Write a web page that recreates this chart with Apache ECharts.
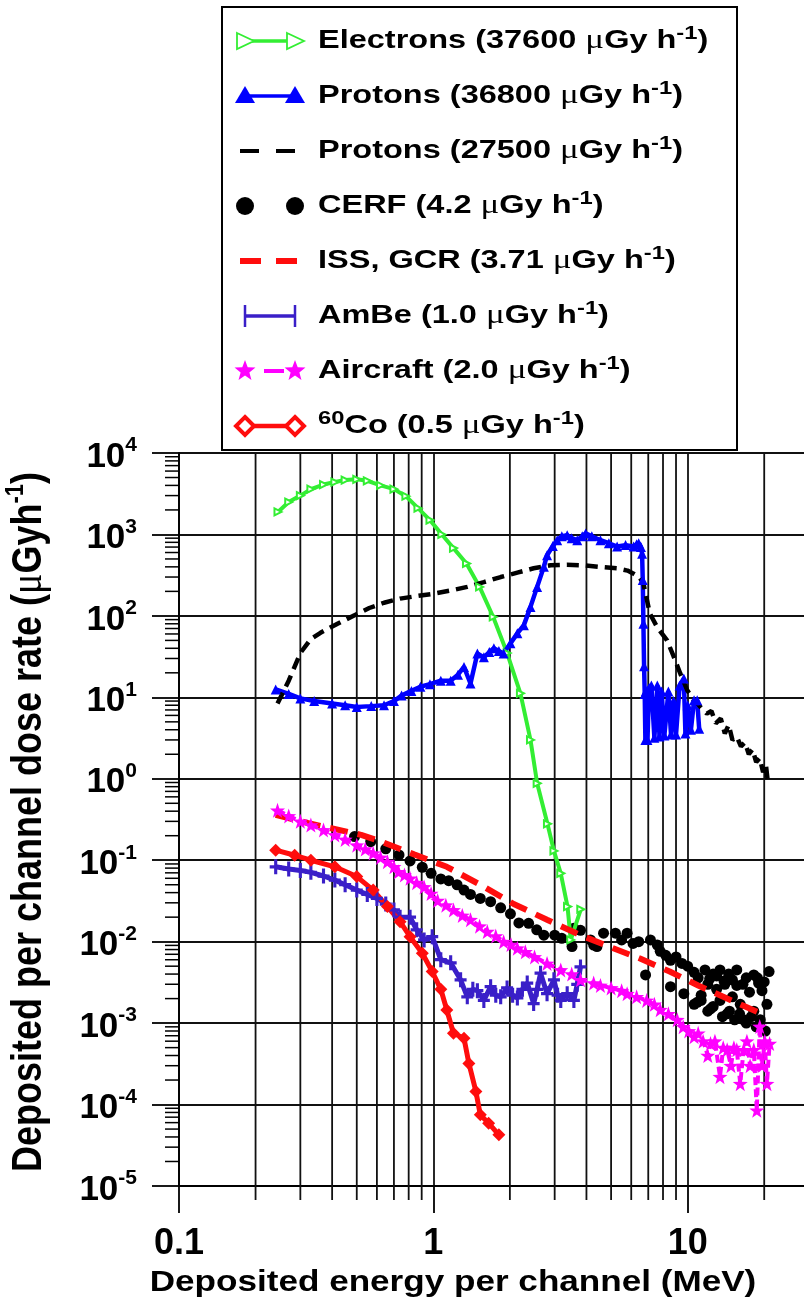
<!DOCTYPE html>
<html>
<head>
<meta charset="utf-8">
<title>Deposited per channel dose rate</title>
<script src="https://cdn.jsdelivr.net/npm/echarts@6/dist/echarts.min.js"></script>
<style>
  html, body { margin: 0; padding: 0; background: #fff; }
  #chart { width: 804px; height: 1306px; }
</style>
</head>
<body>
<div id="chart"></div>
<script>
// values: energy (MeV) and dose rate (uGy/h)
const electronsE = [0.245, 0.27, 0.30, 0.33, 0.37, 0.41, 0.45, 0.50, 0.55, 0.62, 0.70, 0.78, 0.87, 0.97, 1.08, 1.2, 1.35, 1.52, 1.72, 1.95, 2.2, 2.41, 2.56, 2.81, 2.98, 3.17, 3.37, 3.47, 3.8]
const electronsDose = [1890, 2500, 3000, 3600, 4100, 4400, 4650, 4750, 4550, 4000, 3600, 2950, 2100, 1500, 1000, 680, 440, 227, 97, 35, 11.2, 3, 0.88, 0.28, 0.13, 0.069, 0.027, 0.0105, 0.025]

const protonsE = [0.24, 0.27, 0.30, 0.34, 0.40, 0.45, 0.50, 0.57, 0.64, 0.70, 0.75, 0.82, 0.89, 0.97, 1.07, 1.17, 1.25, 1.32, 1.40, 1.49, 1.58, 1.66, 1.73, 1.81, 1.89, 2.01, 2.14, 2.27, 2.41, 2.56, 2.72, 2.80, 2.95, 3.07, 3.2, 3.36, 3.5, 3.68, 3.85, 3.97, 4.2, 4.54, 4.9, 5.28, 5.7, 6.13, 6.3, 6.42, 6.55, 6.62, 6.66, 6.70, 6.74, 6.78, 6.82, 6.86, 6.95, 7.05, 7.2, 7.4, 7.6, 7.75, 7.9, 8.1, 8.4, 8.6, 8.8, 9.0, 9.3, 9.66, 9.8, 10.0, 10.3, 10.6, 10.9, 11.1]
const protonsDose = [12.5, 11, 9.7, 9, 8.4, 8, 7.6, 7.8, 8, 9, 10.5, 12, 13.5, 14.5, 16, 16, 19, 23.6, 14.8, 34.6, 31, 36, 40, 37, 34.6, 46, 61, 77, 129, 227, 400, 556, 720, 850, 950, 980, 900, 850, 950, 1030, 950, 850, 780, 710, 740, 710, 760, 780, 700, 580, 275, 80, 24, 11, 3.0, 12, 3.0, 13, 14, 3.2, 14, 3.3, 11.8, 3.4, 11.8, 3.5, 9, 3.5, 14, 17, 3.6, 8, 4, 9.2, 9.2, 4.1]

const protons2E = [0.244, 0.27, 0.30, 0.33, 0.36, 0.42, 0.49, 0.56, 0.64, 0.74, 0.86, 1.0, 1.17, 1.36, 1.58, 1.84, 2.14, 2.48, 2.89, 3.35, 3.9, 4.5, 5.28, 5.8, 6.13, 6.45, 6.7, 7.1, 7.6, 8.3, 8.8, 9.36, 9.95, 10.5, 11.0, 11.5, 11.9, 12.4, 12.9, 13.5, 14.0, 14.5, 15.0, 15.6, 16.2, 16.8, 17.4, 18.0, 18.6, 19.2, 19.8, 20.3, 20.6]
const protons2Dose = [8.4, 16, 35, 52, 62, 80, 102, 125, 145, 163, 175, 187, 205, 227, 260, 300, 340, 384, 418, 425, 418, 400, 384, 360, 330, 300, 250, 107, 72, 50, 32, 19.5, 12.3, 9.5, 8.2, 7.0, 6.3, 6.8, 4.8, 5.5, 3.6, 4.6, 3.0, 3.3, 2.5, 2.8, 2.0, 2.3, 1.6, 1.8, 1.2, 1.5, 1.0]

const cerfE = [0.49, 0.567, 0.65, 0.733, 0.81, 0.905, 0.98, 1.07, 1.15, 1.24, 1.32, 1.40, 1.53, 1.68, 1.84, 2.01, 2.17, 2.37, 2.55, 2.72, 3.0, 3.2, 3.51, 3.57, 3.79, 4.15, 4.27, 4.4, 4.67, 5.2, 5.5, 5.78, 6.1, 6.42, 6.83, 7.14, 7.6, 7.8, 8.2, 8.56, 8.56, 9.0, 9.5, 9.66, 10.0, 10.6, 10.6, 11.0, 11.3, 11.7, 12.0, 12.3, 12.6, 13.0, 13.4, 13.4, 13.9, 14.3, 14.5, 15.0, 15.6, 15.6, 16.1, 16.6, 17.0, 17.5, 18.2, 18.2, 19.0, 19.6, 20.2, 20.5, 20.9, 10.9, 11.3, 12.0, 12.6, 13.7, 14.6, 15.3, 16.0, 17.0, 17.8, 18.6, 19.3, 12.2, 13.0, 14.0, 15.0, 16.5, 18.8, 20.0]
const cerfDose = [0.195, 0.169, 0.138, 0.116, 0.098, 0.082, 0.069, 0.059, 0.056, 0.050, 0.043, 0.038, 0.034, 0.031, 0.026, 0.022, 0.017, 0.0168, 0.014, 0.012, 0.012, 0.011, 0.0087, 0.0146, 0.0138, 0.0105, 0.0091, 0.0087, 0.0127, 0.0127, 0.0105, 0.0127, 0.0095, 0.010, 0.0039, 0.0105, 0.0091, 0.0076, 0.0068, 0.0059, 0.0028, 0.0065, 0.0054, 0.0023, 0.0050, 0.0042, 0.0017, 0.0036, 0.0022, 0.0045, 0.0030, 0.0015, 0.0040, 0.0026, 0.0045, 0.0019, 0.0033, 0.0013, 0.0040, 0.0021, 0.0045, 0.0029, 0.0017, 0.0011, 0.0036, 0.0024, 0.0039, 0.0014, 0.0031, 0.0025, 0.0008, 0.0017, 0.0043, 0.0018, 0.0019, 0.0014, 0.0016, 0.0012, 0.0014, 0.0011, 0.0013, 0.0010, 0.0012, 0.0009, 0.0011, 0.0035, 0.0038, 0.0030, 0.0034, 0.0030, 0.0036, 0.0032]

const issE = [0.24, 0.33, 0.52, 0.62, 0.84, 1.13, 1.53, 2.07, 2.8, 3.79, 5.0, 6.5, 8.5, 11.0, 14.3, 19.2]
const issDose = [0.36, 0.28, 0.205, 0.17, 0.118, 0.083, 0.050, 0.029, 0.0186, 0.012, 0.0085, 0.0062, 0.0043, 0.0029, 0.0020, 0.00133]

const ambeE = [0.24, 0.27, 0.30, 0.33, 0.37, 0.41, 0.45, 0.50, 0.55, 0.60, 0.65, 0.70, 0.74, 0.81, 0.86, 0.92, 0.99, 1.07, 1.17, 1.28, 1.36, 1.43, 1.49, 1.58, 1.68, 1.76, 1.84, 1.95, 2.05, 2.14, 2.24, 2.34, 2.48, 2.56, 2.64, 2.8, 2.98, 3.08, 3.17, 3.36, 3.57, 3.68, 3.79]
const ambeDose = [0.083, 0.078, 0.075, 0.071, 0.064, 0.057, 0.050, 0.043, 0.038, 0.034, 0.029, 0.0245, 0.020, 0.020, 0.014, 0.0105, 0.0115, 0.006, 0.0055, 0.0034, 0.0021, 0.0026, 0.0025, 0.0019, 0.0028, 0.0022, 0.0021, 0.0027, 0.0022, 0.00204, 0.0026, 0.0031, 0.00174, 0.0026, 0.0041, 0.0023, 0.0034, 0.0022, 0.0019, 0.0023, 0.0019, 0.0030, 0.0049]

const aircraftE = [0.244, 0.27, 0.30, 0.33, 0.37, 0.41, 0.45, 0.50, 0.54, 0.58, 0.62, 0.66, 0.70, 0.73, 0.77, 0.81, 0.86, 0.92, 0.98, 1.04, 1.12, 1.2, 1.3, 1.40, 1.52, 1.63, 1.76, 1.89, 2.02, 2.14, 2.3, 2.5, 2.8, 3.17, 3.5, 3.79, 4.27, 4.54, 5.0, 5.5, 5.78, 6.3, 6.9, 7.4, 7.8, 8.4, 9.1, 9.6, 10.1, 10.6, 11.0, 11.5, 12.0, 12.3, 12.8, 13.4, 13.8, 14.3, 14.8, 15.2, 15.6, 16.1, 16.6, 17.1, 17.6, 18.2, 18.7, 19.2, 19.6, 20.1, 20.5, 21.0]
const aircraftDose = [0.41, 0.35, 0.30, 0.27, 0.235, 0.204, 0.18, 0.153, 0.137, 0.122, 0.108, 0.096, 0.083, 0.072, 0.066, 0.060, 0.053, 0.047, 0.039, 0.032, 0.028, 0.0245, 0.021, 0.0186, 0.0155, 0.0133, 0.0117, 0.010, 0.0092, 0.0083, 0.0075, 0.0065, 0.0054, 0.0045, 0.0040, 0.0034, 0.0031, 0.0029, 0.0027, 0.0025, 0.0023, 0.0021, 0.0019, 0.0017, 0.00146, 0.0013, 0.0011, 0.0009, 0.0008, 0.00068, 0.00075, 0.0006, 0.0004, 0.00056, 0.0006, 0.00022, 0.0005, 0.00047, 0.0003, 0.0005, 0.00047, 0.00018, 0.00047, 0.0006, 0.0003, 0.00047, 0.000085, 0.00091, 0.0003, 0.0006, 0.00018, 0.00056]

const coE = [0.24, 0.285, 0.33, 0.41, 0.50, 0.58, 0.66, 0.74, 0.81, 0.905, 0.99, 1.07, 1.13, 1.2, 1.32, 1.38, 1.47, 1.53, 1.65, 1.81]
const coDose = [0.133, 0.115, 0.10, 0.083, 0.063, 0.043, 0.027, 0.0176, 0.0115, 0.0072, 0.0043, 0.0026, 0.00145, 0.00075, 0.00065, 0.00032, 0.000145, 0.000075, 0.000059, 0.0000425]

// minor grid positions between the decades
const minorXTicks = [0.2, 0.3, 0.4, 0.5, 0.6, 0.7, 0.8, 0.9, 2, 3, 4, 5, 6, 7, 8, 9, 20]
const minorYTicks = []
for (let p = -5; p < 4; p++) {
  for (let k = 2; k <= 9; k++) minorYTicks.push(k * Math.pow(10, p))
}

const legendLabels = [
  '{t|Electrons (37600 }{mu|\u03bc}{t|Gy h}{sup|-1}{t|)}',
  '{t|Protons (36800 }{mu|\u03bc}{t|Gy h}{sup|-1}{t|)}',
  '{t|Protons (27500 }{mu|\u03bc}{t|Gy h}{sup|-1}{t|)}',
  '{t|CERF (4.2 }{mu|\u03bc}{t|Gy h}{sup|-1}{t|)}',
  '{t|ISS, GCR (3.71 }{mu|\u03bc}{t|Gy h}{sup|-1}{t|)}',
  '{t|AmBe (1.0 }{mu|\u03bc}{t|Gy h}{sup|-1}{t|)}',
  '{t|Aircraft (2.0 }{mu|\u03bc}{t|Gy h}{sup|-1}{t|)}',
  '{sup|60}{t|Co (0.5 }{mu|\u03bc}{t|Gy h}{sup|-1}{t|)}'
]

const FONT = '"Liberation Sans", Arial, sans-serif'
const SERIF = '"Liberation Serif", "Times New Roman", serif'
const GREEN = '#33ee33'
const BLUE = '#0000ff'
const RED = '#ff0d0d'
const INDIGO = '#3a1fc8'
const MAGENTA = '#ff00ff'

const STAR = 'path://M0,-10L2.35,-3.24L9.51,-3.09L3.8,1.24L5.88,8.09L0,4L-5.88,8.09L-3.8,1.24L-9.51,-3.09L-2.35,-3.24Z'
const PLUS = 'path://M-1.3,-6L1.3,-6L1.3,-1.3L5,-1.3L5,1.3L1.3,1.3L1.3,6L-1.3,6L-1.3,1.3L-5,1.3L-5,-1.3L-1.3,-1.3Z'

function zip(xs, ys) {
  return xs.map((x, i) => [x, ys[i]])
}

// ---------- legend box (drawn with graphic elements) ----------
function line(x1, y1, x2, y2, stroke, width, dash) {
  return { type: 'line', shape: { x1, y1, x2, y2 }, style: { stroke, lineWidth: width, lineDash: dash || null } }
}
function poly(points, fill, stroke, width) {
  return { type: 'polygon', shape: { points }, style: { fill, stroke: stroke || null, lineWidth: width || 0 } }
}
function starPts(cx, cy, r) {
  const pts = []
  for (let k = 0; k < 10; k++) {
    const a = -Math.PI / 2 + k * Math.PI / 5
    const rr = k % 2 ? r * 0.42 : r
    pts.push([cx + rr * Math.cos(a), cy + rr * Math.sin(a)])
  }
  return pts
}

const L = 245, R = 295
const rowY = i => 41 + 55 * i
function legendIcon(i) {
  const y = rowY(i)
  const out = []
  if (i === 0) {
    out.push(line(L, y, R, y, GREEN, 3.5))
    ;[L, R].forEach(cx => out.push(poly([[cx - 8, y - 8], [cx + 9, y], [cx - 8, y + 8]], '#fff', GREEN, 1.8)))
  } else if (i === 1) {
    out.push(line(L, y, R, y, BLUE, 3.5))
    ;[L, R].forEach(cx => out.push(poly([[cx, y - 10], [cx + 10, y + 7], [cx - 10, y + 7]], BLUE)))
  } else if (i === 2) {
    out.push(line(240, y, 259, y, '#000', 4))
    out.push(line(276, y, 295, y, '#000', 4))
  } else if (i === 3) {
    ;[L, R].forEach(cx => out.push({ type: 'circle', shape: { cx, cy: y, r: 9 }, style: { fill: '#000' } }))
  } else if (i === 4) {
    out.push(line(240, y, 261, y, RED, 6))
    out.push(line(276, y, 297, y, RED, 6))
  } else if (i === 5) {
    out.push(line(L, y, R, y, INDIGO, 3.5))
    ;[L, R].forEach(cx => out.push(line(cx, y - 11, cx, y + 11, INDIGO, 2.5)))
  } else if (i === 6) {
    out.push(line(264, y, 284, y, MAGENTA, 4))
    ;[L, R].forEach(cx => out.push(poly(starPts(cx, y, 11), MAGENTA)))
  } else {
    out.push(line(L, y, R, y, RED, 4.5))
    ;[L, R].forEach(cx => out.push(poly([[cx, y - 9], [cx + 9, y], [cx, y + 9], [cx - 9, y]], '#fff', RED, 4)))
  }
  return out
}

const legendRich = {
  t: { fontSize: 26, fontWeight: 'bold', fontFamily: FONT, fill: '#000', lineHeight: 34 },
  mu: { fontSize: 28, fontWeight: 'normal', fontFamily: SERIF, fill: '#000', lineHeight: 34 },
  sup: { fontSize: 19, fontWeight: 'bold', fontFamily: FONT, fill: '#000', lineHeight: 19, verticalAlign: 'top' }
}

const graphics = [
  { type: 'rect', shape: { x: 222, y: 7, width: 515, height: 443 }, style: { fill: '#fff', stroke: '#000', lineWidth: 2 }, z: 10 }
]
legendLabels.forEach((label, i) => {
  legendIcon(i).forEach(el => { el.z = 11; graphics.push(el) })
  graphics.push({
    type: 'text', x: 318, y: rowY(i), scaleX: 1.25, z: 11,
    style: { text: label, rich: legendRich, align: 'left', verticalAlign: 'middle' }
  })
})

// axis titles
graphics.push({
  type: 'text', x: 453, y: 1283, scaleX: 1.17,
  style: { text: 'Deposited energy per channel (MeV)', font: 'bold 30px ' + FONT, fill: '#000', align: 'center', verticalAlign: 'middle' }
})
graphics.push({
  type: 'text', x: 29, y: 822, rotation: Math.PI / 2, scaleY: 1.2,
  style: {
    text: '{t|Deposited per channel dose rate (}{mu|\u03bc}{t|Gyh}{sup|-1}{t|)}',
    align: 'center', verticalAlign: 'middle',
    rich: {
      t: { fontSize: 36, fontWeight: 'bold', fontFamily: FONT, fill: '#000', lineHeight: 44 },
      mu: { fontSize: 38, fontWeight: 'normal', fontFamily: SERIF, fill: '#000', lineHeight: 44 },
      sup: { fontSize: 22, fontWeight: 'bold', fontFamily: FONT, fill: '#000', lineHeight: 22, verticalAlign: 'top' }
    }
  }
})

// ---------- chart ----------
const chart = echarts.init(document.getElementById('chart'))

const gridLine = { color: '#111', width: 1.8 }

chart.setOption({
  animation: false,
  backgroundColor: '#fff',
  grid: { left: 179, top: 453, width: 630, height: 733, containLabel: false, outerBoundsMode: 'none' },
  xAxis: {
    type: 'log',
    logBase: 10,
    min: 0.1,
    max: 30,
    axisLine: { show: true, onZero: false, lineStyle: { color: '#000', width: 1.8 } },
    axisTick: { show: true, length: 27, lineStyle: { color: '#000', width: 1.8 } },
    axisLabel: {
      margin: 40,
      fontSize: 36,
      fontWeight: 'bold',
      fontFamily: FONT,
      color: '#000',
      showMaxLabel: false,
      formatter: v => (v < 1 ? v.toFixed(1) : String(Math.round(v)))
    },
    splitLine: { show: true, lineStyle: gridLine }
  },
  yAxis: {
    type: 'log',
    logBase: 10,
    min: 1e-5,
    max: 1e4,
    axisLine: { show: true, onZero: false, lineStyle: { color: '#000', width: 1.8 } },
    axisTick: { show: true, length: 27, lineStyle: { color: '#000', width: 1.8 } },
    axisLabel: {
      margin: 42,
      padding: [8, 0, 0, 0],
      formatter: v => '{b|10}{s|' + Math.round(Math.log10(v)) + '}',
      rich: {
        b: { fontSize: 35, fontWeight: 'bold', fontFamily: FONT, color: '#000', lineHeight: 44 },
        s: { fontSize: 21, fontWeight: 'bold', fontFamily: FONT, color: '#000', lineHeight: 21, verticalAlign: 'top' }
      }
    },
    splitLine: { show: true, lineStyle: gridLine }
  },
  graphic: { elements: graphics },
  series: [
    {
      type: 'custom',
      name: 'minor x grid',
      silent: true,
      clip: false,
      z: 1,
      data: minorXTicks.map(v => [v, 1]),
      renderItem: (params, api) => {
        const top = api.coord([api.value(0), 1e4])
        const bottom = api.coord([api.value(0), 1e-5])
        return {
          type: 'line',
          shape: { x1: top[0], y1: top[1], x2: bottom[0], y2: bottom[1] + 14 },
          style: { stroke: gridLine.color, lineWidth: gridLine.width }
        }
      }
    },
    {
      type: 'custom',
      name: 'minor y ticks',
      silent: true,
      clip: false,
      z: 1,
      data: minorYTicks.map(v => [0.1, v]),
      renderItem: (params, api) => {
        const p = api.coord([0.1, api.value(1)])
        return {
          type: 'line',
          shape: { x1: p[0] - 14, y1: p[1], x2: p[0], y2: p[1] },
          style: { stroke: '#000', lineWidth: 1.5 }
        }
      }
    },
    {
      name: 'Electrons',
      type: 'line',
      data: zip(electronsE, electronsDose),
      symbol: 'emptyTriangle',
      symbolRotate: -90,
      symbolSize: 7,
      lineStyle: { color: GREEN, width: 4 },
      itemStyle: { color: GREEN, borderWidth: 1 }
    },
    {
      name: 'Protons 36800',
      type: 'line',
      data: zip(protonsE, protonsDose),
      symbol: 'triangle',
      symbolSize: 10,
      lineStyle: { color: BLUE, width: 4.5 },
      itemStyle: { color: BLUE }
    },
    {
      name: 'Protons 27500',
      type: 'line',
      data: zip(protons2E, protons2Dose),
      showSymbol: false,
      lineStyle: { color: '#000', width: 4.5, type: [12, 7] },
      itemStyle: { color: '#000' }
    },
    {
      name: 'CERF',
      type: 'scatter',
      data: zip(cerfE, cerfDose),
      symbol: 'circle',
      symbolSize: 11,
      itemStyle: { color: '#000', opacity: 1 }
    },
    {
      name: 'ISS, GCR',
      type: 'line',
      data: zip(issE, issDose),
      showSymbol: false,
      lineStyle: { color: RED, width: 6, type: [18, 10] },
      itemStyle: { color: RED }
    },
    {
      name: 'AmBe',
      type: 'line',
      data: zip(ambeE, ambeDose),
      symbol: PLUS,
      symbolSize: [12, 15],
      lineStyle: { color: INDIGO, width: 5 },
      itemStyle: { color: INDIGO }
    },
    {
      name: 'Aircraft',
      type: 'line',
      data: zip(aircraftE, aircraftDose),
      symbol: STAR,
      symbolSize: 15,
      lineStyle: { color: MAGENTA, width: 4, type: [8, 4] },
      itemStyle: { color: MAGENTA }
    },
    {
      name: '60Co',
      type: 'line',
      data: zip(coE, coDose),
      symbol: 'diamond',
      symbolSize: 13,
      lineStyle: { color: RED, width: 5 },
      itemStyle: { color: RED }
    }
  ]
})
</script>
</body>
</html>
